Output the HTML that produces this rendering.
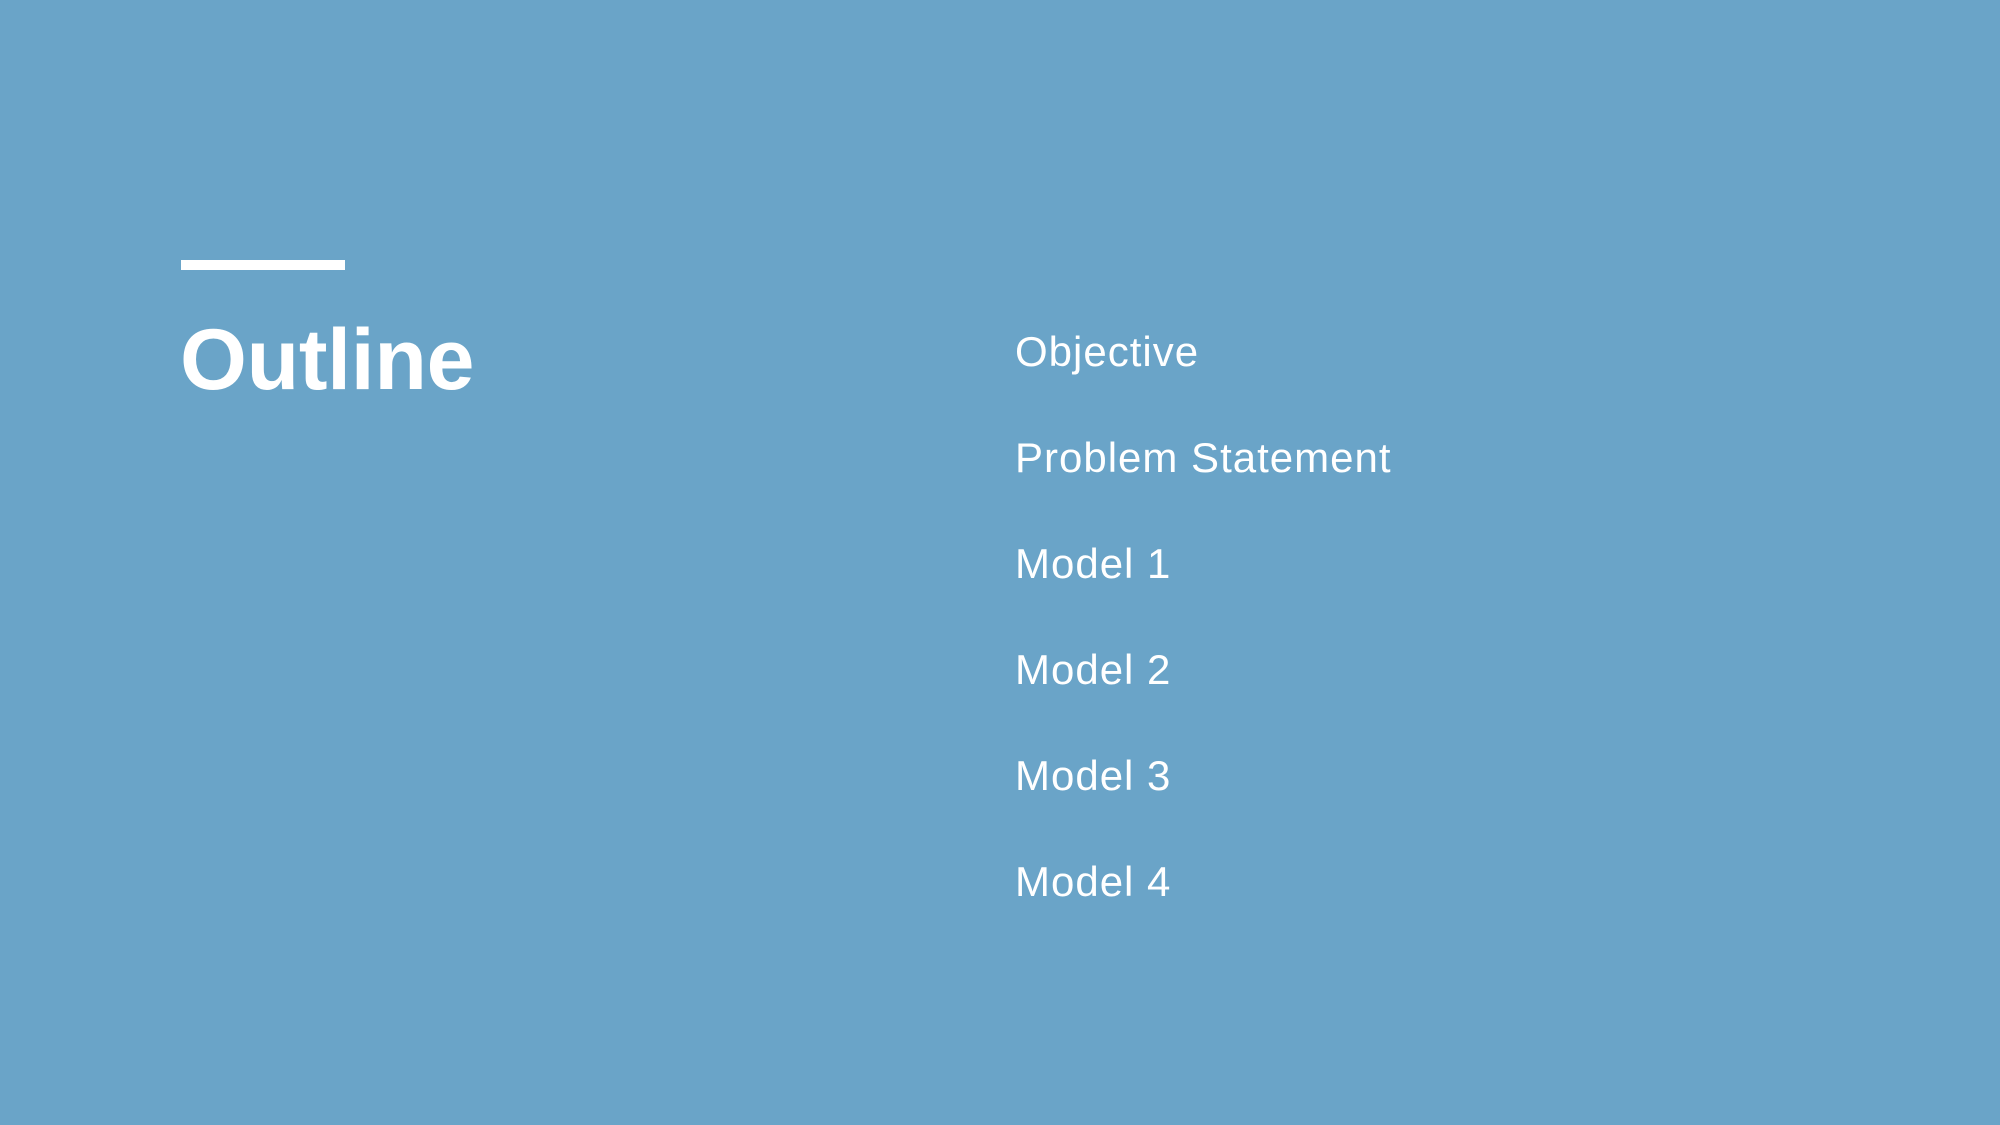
<!DOCTYPE html>
<html><head><meta charset="utf-8"><style>
html,body{margin:0;padding:0;}
body{width:2000px;height:1125px;background:#6aa4c8;position:relative;overflow:hidden;font-family:"Liberation Sans",sans-serif;color:#fff;}
.bar{position:absolute;left:181px;top:260px;width:164px;height:10px;background:#fff;}
.title{position:absolute;left:180px;top:360px;font-weight:bold;font-size:86px;line-height:0;letter-spacing:-0.3px;}
.item{position:absolute;left:1015px;font-size:42px;line-height:0;letter-spacing:1px;}
</style></head><body>
<div class="bar"></div>
<div class="title">Outline</div>
<div class="item" style="top:352px">Objective</div>
<div class="item" style="top:458px">Problem Statement</div>
<div class="item" style="top:564px">Model 1</div>
<div class="item" style="top:670px">Model 2</div>
<div class="item" style="top:776px">Model 3</div>
<div class="item" style="top:882px">Model 4</div>
</body></html>
